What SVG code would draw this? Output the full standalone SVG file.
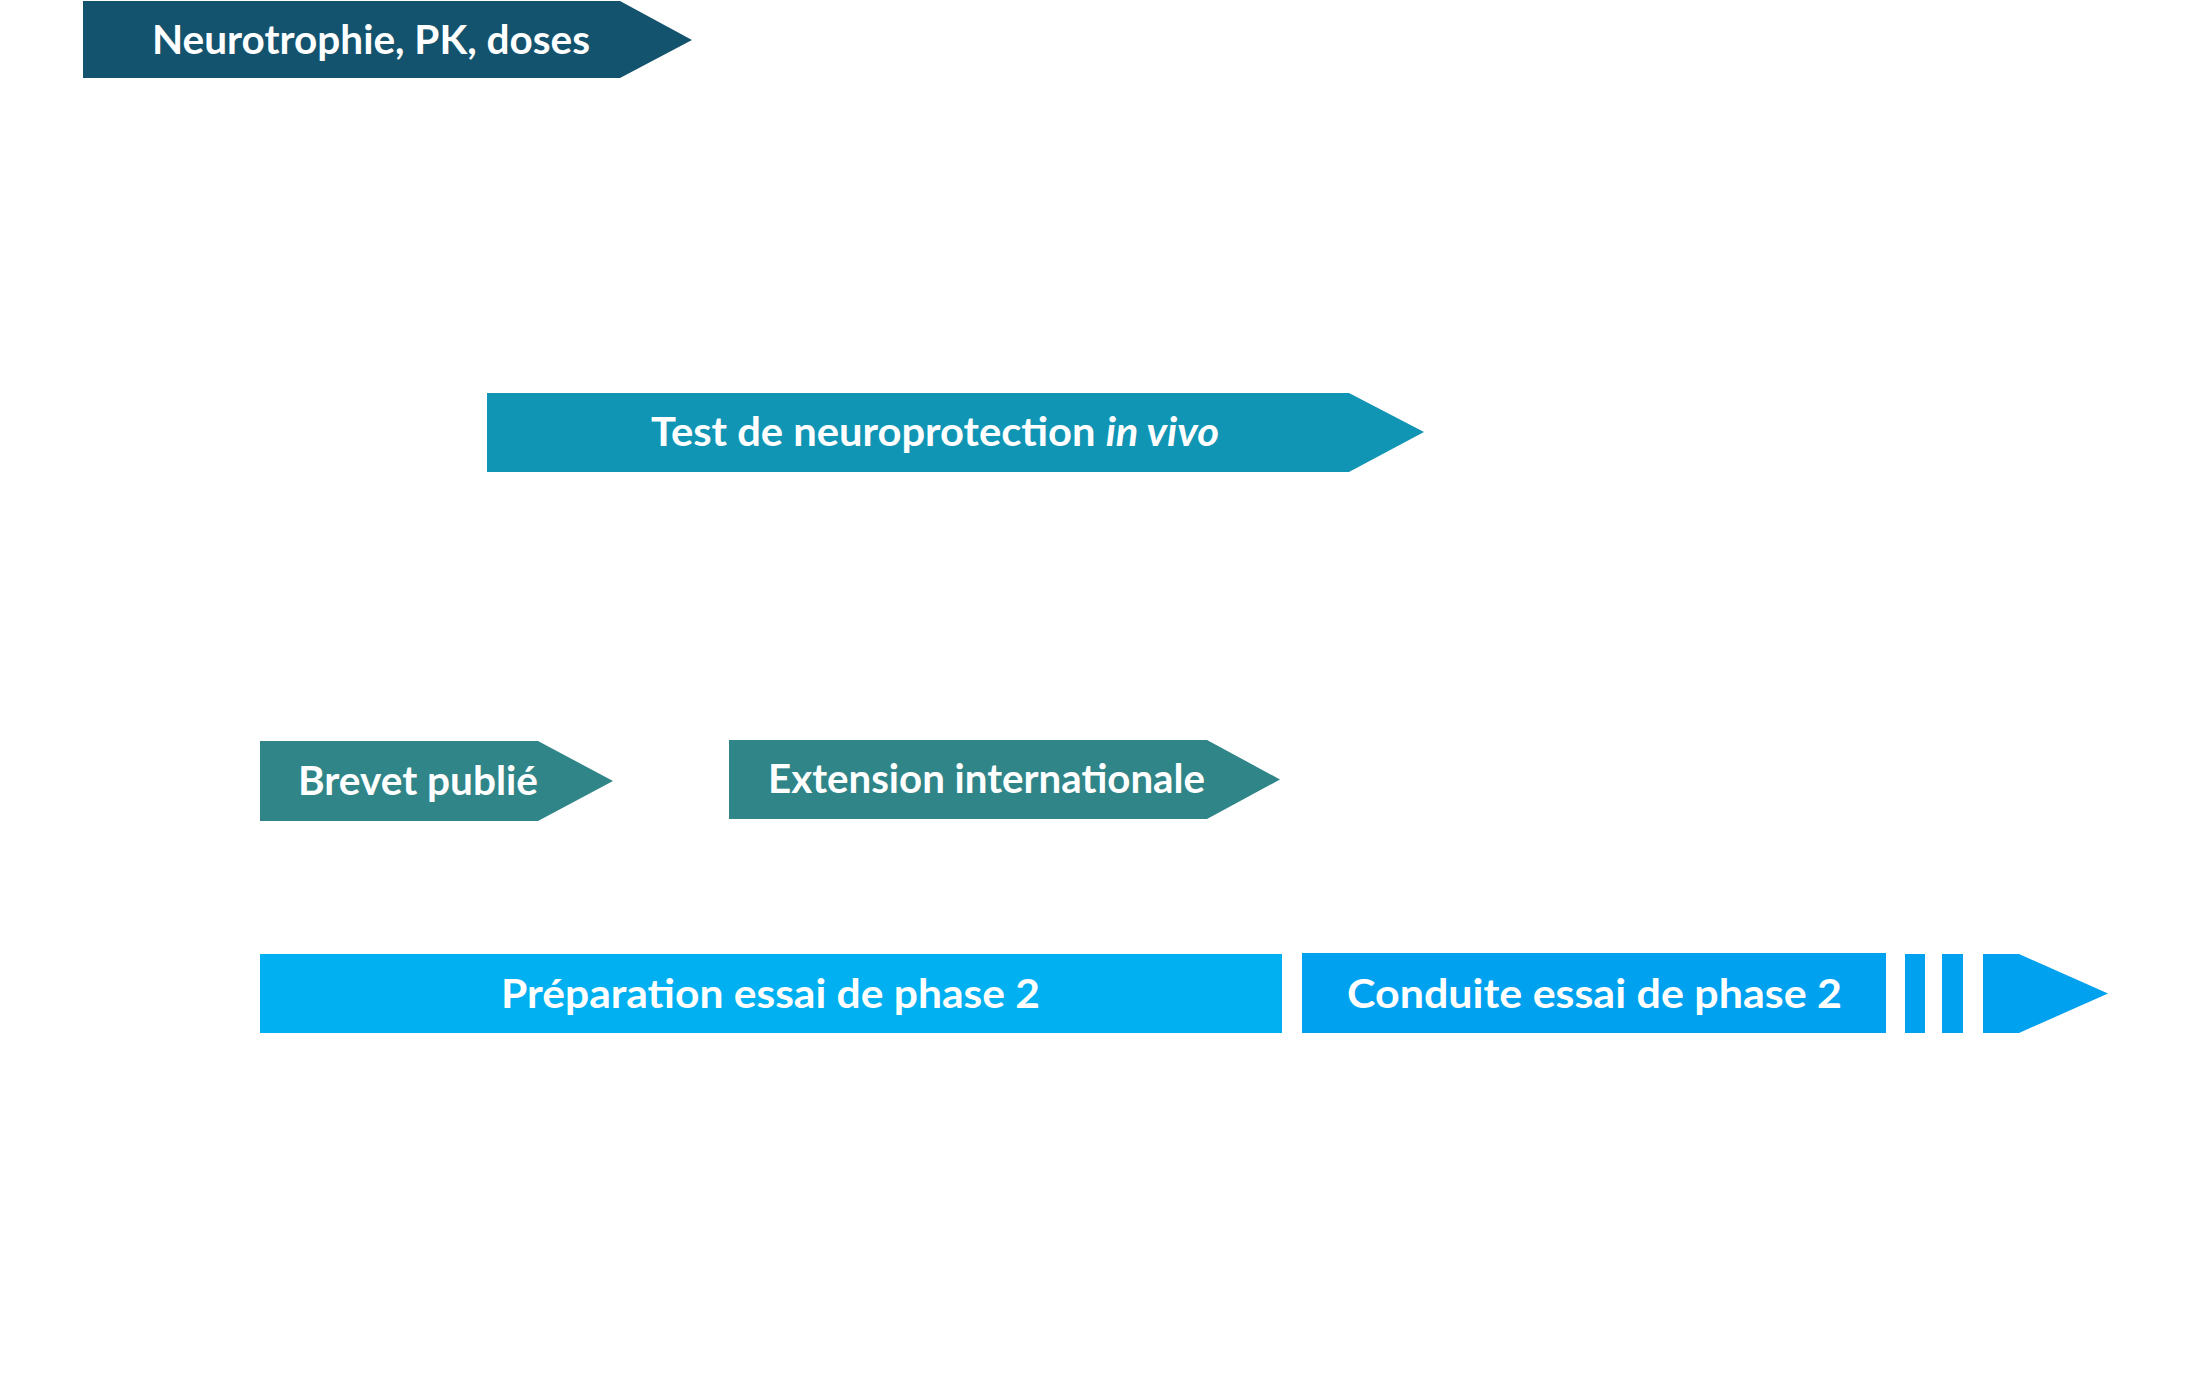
<svg xmlns="http://www.w3.org/2000/svg" width="2192" height="1385" viewBox="0 0 2192 1385">
<style>
.lbl{font-family:Lato,"Open Sans","Liberation Sans",sans-serif;font-weight:700;font-size:40px;fill:#ffffff}
</style>
<rect width="2192" height="1385" fill="#ffffff"/>
<g id="connectors"></g>
<g id="n-neurotrophie">
<polygon points="83,1 620,1 692,40 620,78 83,78" fill="#14536E"/>
<text class="lbl" x="152" y="54" textLength="438" lengthAdjust="spacingAndGlyphs">Neurotrophie, PK, doses</text>
</g>
<g id="n-test">
<polygon points="487,393 1349,393 1424,432 1349,472 487,472" fill="#1195B5"/>
<text class="lbl" x="651" y="446" textLength="568" lengthAdjust="spacingAndGlyphs">Test de neuroprotection <tspan font-style="italic">in vivo</tspan></text>
</g>
<g id="n-brevet">
<polygon points="260,741 538,741 613,781 538,821 260,821" fill="#308588"/>
<text class="lbl" x="298" y="795" textLength="240" lengthAdjust="spacingAndGlyphs">Brevet publié</text>
</g>
<g id="n-extension">
<polygon points="729,740 1207,740 1280,779.5 1207,819 729,819" fill="#308588"/>
<text class="lbl" x="768" y="793" textLength="437" lengthAdjust="spacingAndGlyphs">Extension internationale</text>
</g>
<g id="n-preparation">
<rect x="260" y="954" width="1022" height="79" fill="#00B0F0"/>
<text class="lbl" x="501" y="1008" textLength="539" lengthAdjust="spacingAndGlyphs">Préparation essai de phase 2</text>
</g>
<g id="n-conduite">
<rect x="1302" y="953" width="584" height="80" fill="#00A1EF"/>
<rect x="1905" y="954" width="20" height="79" fill="#00A1EF"/>
<rect x="1942" y="954" width="21" height="79" fill="#00A1EF"/>
<polygon points="1983,954 2019,954 2108,993.5 2019,1033 1983,1033" fill="#00A1EF"/>
<text class="lbl" x="1347" y="1008" textLength="495" lengthAdjust="spacingAndGlyphs">Conduite essai de phase 2</text>
</g>
</svg>
